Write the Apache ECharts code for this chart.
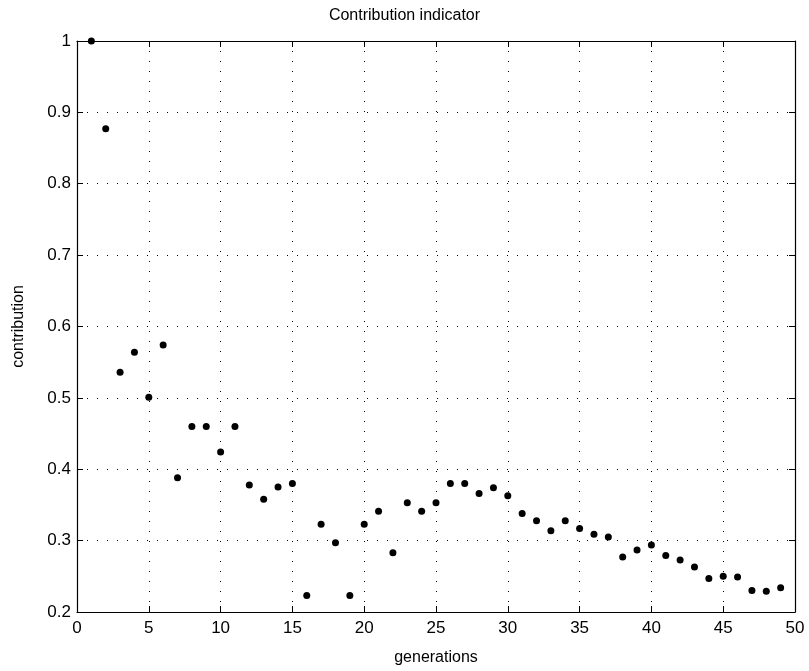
<!DOCTYPE html>
<html>
<head>
<meta charset="utf-8">
<script src="https://cdn.jsdelivr.net/npm/echarts@6/dist/echarts.min.js"></script>
<style>
  html, body { margin: 0; padding: 0; background: #fff; }
  #chart { width: 809px; height: 671px; }
</style>
</head>
<body>
<div id="chart"></div>
<script>
// generation number for each point
var generations = [
    1, 2, 3, 4, 5, 6, 7, 8, 9, 10,
    11, 12, 13, 14, 15, 16, 17, 18, 19, 20,
    21, 22, 23, 24, 25, 26, 27, 28, 29, 30,
    31, 32, 33, 34, 35, 36, 37, 38, 39, 40,
    41, 42, 43, 44, 45, 46, 47, 48, 49
];

// contribution
var contribution = [
    1.0, 0.877, 0.536, 0.564, 0.501, 0.574, 0.388, 0.460, 0.460, 0.424,
    0.460, 0.378, 0.358, 0.375, 0.380, 0.223, 0.323, 0.297, 0.223, 0.323,
    0.341, 0.283, 0.353, 0.341, 0.353, 0.380, 0.380, 0.366, 0.374, 0.363,
    0.338, 0.328, 0.314, 0.328, 0.317, 0.309, 0.305, 0.277, 0.287, 0.294,
    0.279, 0.273, 0.263, 0.247, 0.250, 0.249, 0.230, 0.229, 0.234
];

var xTicks = { min: 0, max: 50, interval: 5 };
var yTicks = { min: 0.2, max: 1, interval: 0.1 };

var points = [];
for (var i = 0; i < generations.length; i++) {
    points.push([generations[i], contribution[i]]);
}

var font = "'Liberation Sans', Arial, sans-serif";

function mainAxis(name, t, extra) {
    var ax = {
        type: 'value',
        name: name,
        nameLocation: 'middle',
        nameTextStyle: { color: '#000', fontSize: 16, fontFamily: font },
        min: t.min,
        max: t.max,
        interval: t.interval,
        axisLine: { show: true, onZero: false, lineStyle: { color: '#000', width: 1.2 } },
        axisTick: { show: true, inside: true, length: 6, lineStyle: { color: '#000' } },
        axisLabel: { color: '#000', fontSize: 16, fontFamily: font },
        splitLine: { show: true, lineStyle: { color: '#000', type: [1, 9], width: 1 } }
    };
    for (var k in extra) ax[k] = extra[k];
    return ax;
}

function mirrorAxis(t, pos) {
    return {
        type: 'value',
        position: pos,
        min: t.min,
        max: t.max,
        interval: t.interval,
        axisLine: { show: true, onZero: false, lineStyle: { color: '#000', width: 1.2 } },
        axisTick: { show: true, inside: true, length: 6, lineStyle: { color: '#000' } },
        axisLabel: { show: false },
        splitLine: { show: false }
    };
}

var myChart = echarts.init(document.getElementById('chart'));
var option = {
    backgroundColor: '#fff',
    animation: false,
    title: {
        text: 'Contribution indicator',
        left: 'center',
        top: 3,
        textStyle: { color: '#000', fontSize: 16, fontWeight: 'normal', fontFamily: font }
    },
    grid: { left: 77, right: 14, top: 41, bottom: 59 },
    xAxis: [
        mainAxis('generations', xTicks, {
            position: 'bottom',
            nameGap: 38,
            axisLabel: { color: '#000', fontSize: 17, fontFamily: font, margin: 8 }
        }),
        mirrorAxis(xTicks, 'top')
    ],
    yAxis: [
        mainAxis('contribution', yTicks, {
            position: 'left',
            nameGap: 50,
            axisLabel: {
                color: '#000', fontSize: 17, fontFamily: font, margin: 6,
                formatter: function (v) { return String(Math.round(v * 10) / 10); }
            }
        }),
        mirrorAxis(yTicks, 'right')
    ],
    series: [{
        type: 'scatter',
        xAxisIndex: 0,
        yAxisIndex: 0,
        symbol: 'circle',
        symbolSize: 7,
        itemStyle: { color: '#000', opacity: 1 },
        data: points
    }]
};
myChart.setOption(option);
</script>
</body>
</html>
